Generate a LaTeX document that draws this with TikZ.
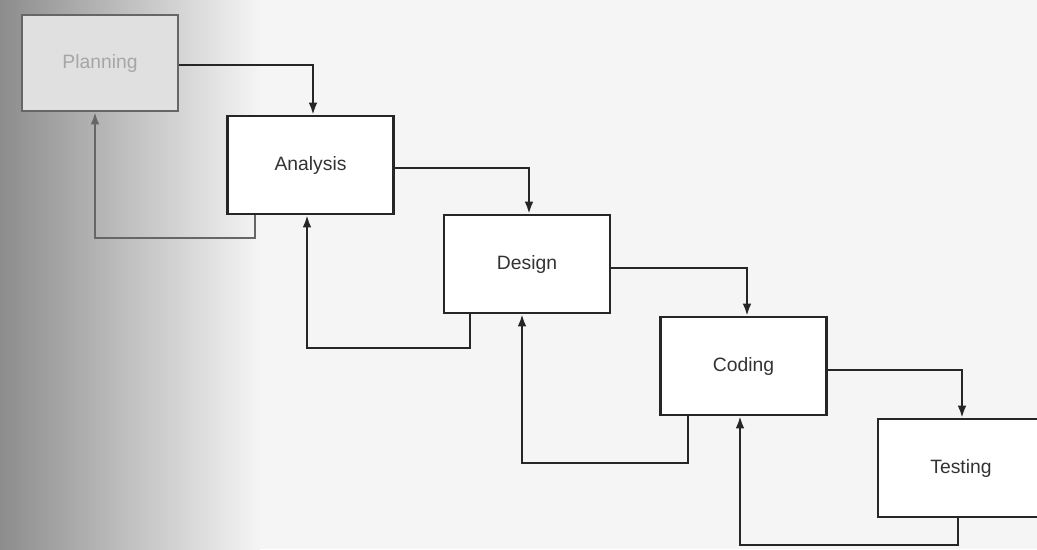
\documentclass[tikz,border=0pt]{standalone}
\usepackage{fontspec}
\setmainfont{Liberation Sans}
\usetikzlibrary{arrows.meta}
\begin{document}
\begin{tikzpicture}[x=0.02cm,y=-0.02cm,
  phase/.style={draw=black!85, line width=1.3pt, fill=white, minimum width=166*0.02cm, minimum height=98*0.02cm, inner sep=0pt, font=\fontsize{11}{13}\selectfont, text=black!80},
  flow/.style={draw=black!85, line width=1.3pt, -{Latex[length=7pt,width=5pt]}},
  back/.style={draw=black!85, line width=1.3pt, -{Latex[length=7pt,width=5pt]}}]
\useasboundingbox (0,0) rectangle (1037,549);
\clip (0,0) rectangle (1037,549);
\fill[black!4] (0,0) rectangle (1037,549);
\shade[left color=black!45, right color=black!4] (0,0) rectangle (260,549);
\node[phase, draw=black!60, fill=black!12, text=black!35, minimum width=156*0.02cm, minimum height=96*0.02cm] (plan) at (100,63) {Planning};
\node[phase] (ana) at (310.5,165) {Analysis};
\node[phase] (des) at (527,264) {Design};
\node[phase] (cod) at (743.5,366) {Coding};
\node[phase] (tes) at (961,468) {Testing};
% forward arrows
\draw[flow] (plan.east |- 0,65) -| (ana.north -| 313,0);
\draw[flow] (ana.east |- 0,168) -| (des.north -| 529,0);
\draw[flow] (des.east |- 0,268) -| (cod.north -| 747,0);
\draw[flow] (cod.east |- 0,370) -| (tes.north -| 962,0);
% feedback arrows
\coordinate (f1) at (95,238);
\draw[back, draw=black!60] (ana.south -| 255,0) |- (f1) -- (plan.south -| 95,0);
\coordinate (f2) at (307,348);
\draw[back] (des.south -| 470,0) |- (f2) -- (ana.south -| 307,0);
\coordinate (f3) at (522,463);
\draw[back] (cod.south -| 688,0) |- (f3) -- (des.south -| 522,0);
\coordinate (f4) at (740,545);
\draw[back] (tes.south -| 958,0) |- (f4) -- (cod.south -| 740,0);
\end{tikzpicture}
\end{document}
